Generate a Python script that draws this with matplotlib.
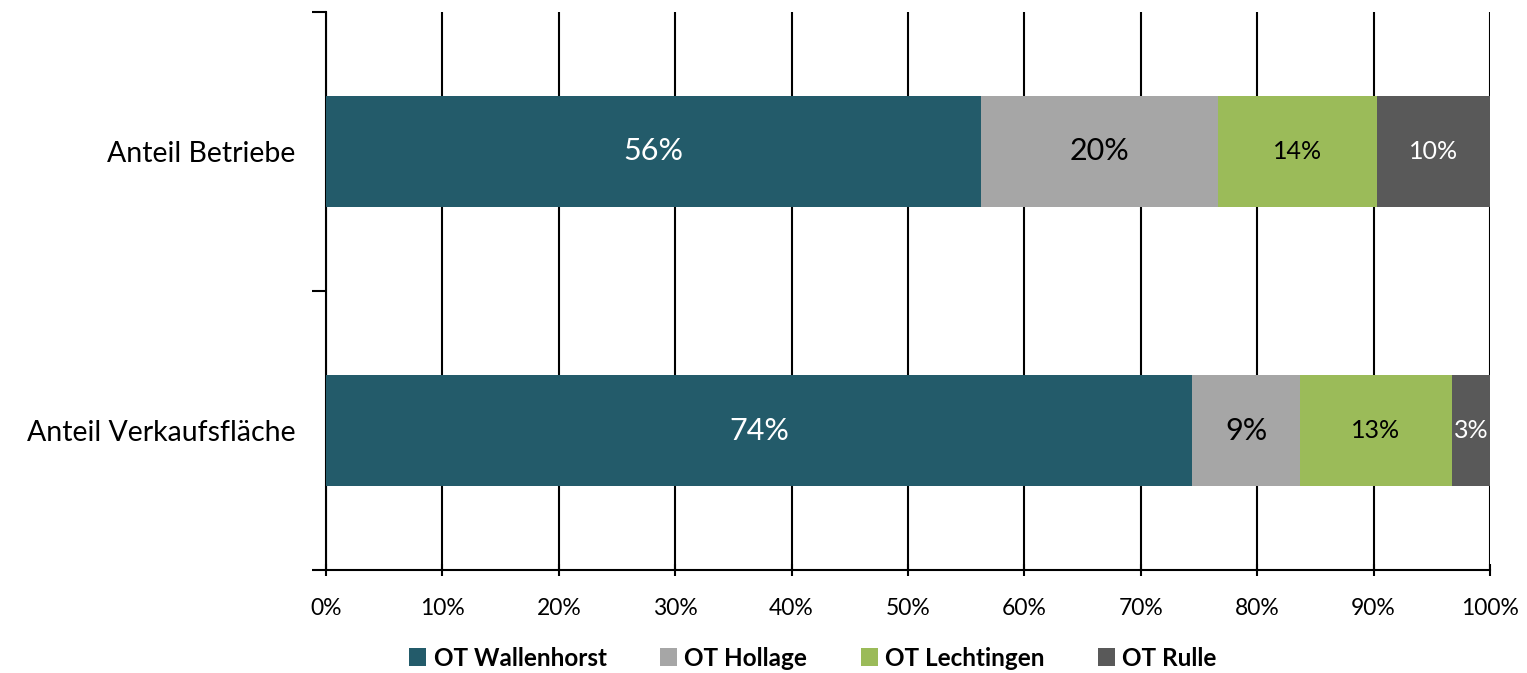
import matplotlib.pyplot as plt
import numpy as np

categories = ["Anteil Betriebe", "Anteil Verkaufsfläche"]
series = ["OT Wallenhorst", "OT Hollage", "OT Lechtingen", "OT Rulle"]
values = {
    "OT Wallenhorst": [56.3, 74.4],
    "OT Hollage": [20.3, 9.3],
    "OT Lechtingen": [13.7, 13.0],
    "OT Rulle": [9.7, 3.3],
}
labels = {
    "OT Wallenhorst": ["56%", "74%"],
    "OT Hollage": ["20%", "9%"],
    "OT Lechtingen": ["14%", "13%"],
    "OT Rulle": ["10%", "3%"],
}
colors = {
    "OT Wallenhorst": "#235B6A",
    "OT Hollage": "#A6A6A6",
    "OT Lechtingen": "#9BBB59",
    "OT Rulle": "#595959",
}
text_colors = {
    "OT Wallenhorst": "white",
    "OT Hollage": "black",
    "OT Lechtingen": "black",
    "OT Rulle": "white",
}
label_sizes = {
    "OT Wallenhorst": 22,
    "OT Hollage": 22,
    "OT Lechtingen": 18,
    "OT Rulle": 18,
}

plt.rcParams["font.family"] = ["Lato", "DejaVu Sans"]

fig = plt.figure(figsize=(15.27, 6.73), dpi=100)
ax = fig.add_axes([326 / 1527, 103 / 673, 1164 / 1527, 558 / 673])

y = np.arange(len(categories))
left = np.zeros(len(categories))
for s in series:
    vals = np.array(values[s])
    ax.barh(y, vals, left=left, height=0.4, color=colors[s], label=s, zorder=3)
    for yi, (l, v, txt) in enumerate(zip(left, vals, labels[s])):
        ax.text(l + v / 2, yi, txt, ha="center", va="center",
                fontsize=label_sizes[s], color=text_colors[s], zorder=4)
    left += vals

ax.set_xlim(0, 100)
ax.set_ylim(1.5, -0.5)
ax.set_xticks(np.arange(0, 101, 10))
ax.set_xticklabels([f"{t}%" for t in range(0, 101, 10)], fontsize=16.5)
ax.set_yticks(y)
ax.set_yticklabels(categories, fontsize=20.5)
ax.set_yticks([-0.5, 0.5, 1.5], minor=True)
ax.tick_params(axis="y", which="major", length=0, pad=22)
ax.tick_params(axis="y", which="minor", length=10, width=1.5, direction="out")
ax.tick_params(axis="x", length=8, width=1.5, direction="inout", pad=16)
ax.grid(True, axis="x", color="black", linewidth=1.5, zorder=0)

for side in ["top", "right"]:
    ax.spines[side].set_visible(False)
ax.spines["left"].set_linewidth(1.5)
ax.spines["bottom"].set_linewidth(1.5)

fig.legend(
    loc="center",
    bbox_to_anchor=(813 / 1527, 15 / 673),
    ncol=4,
    frameon=False,
    prop={"weight": "bold", "size": 17.5},
    handlelength=0.7,
    handleheight=0.7,
    handletextpad=0.3,
    columnspacing=2.2,
)

fig.savefig("out.png", dpi=100)
